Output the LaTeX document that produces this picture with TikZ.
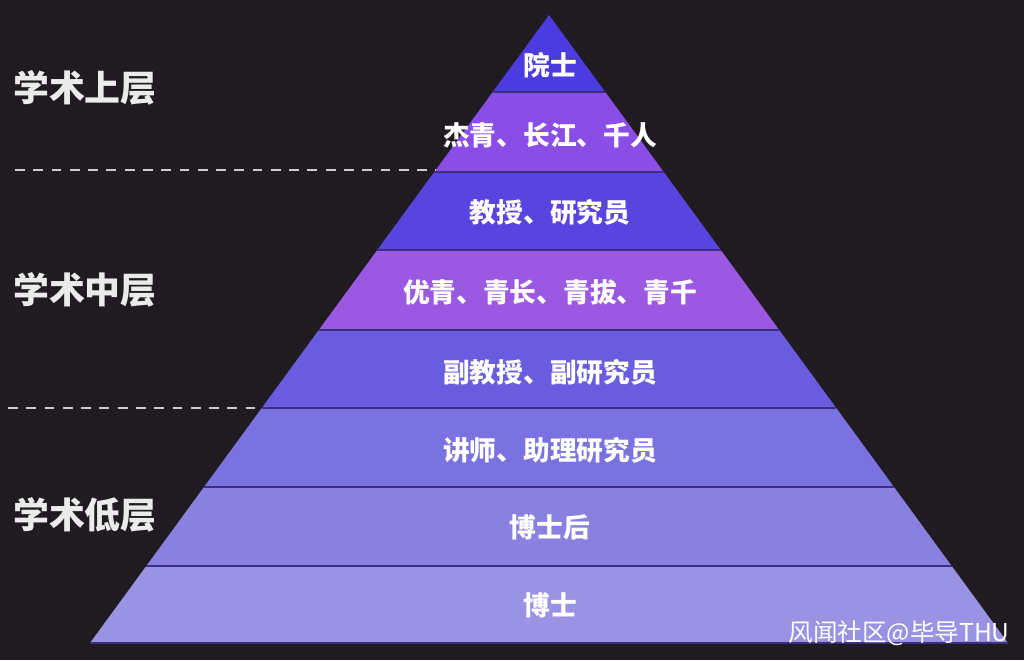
\documentclass[tikz,border=0pt]{standalone}
\usepackage{fontspec}
\newfontfamily\cjk{Noto Sans CJK SC}
\definecolor{bg}{HTML}{1F1B20}
\definecolor{cA}{HTML}{4B3BE0}
\definecolor{cB}{HTML}{8A4DE6}
\definecolor{cC}{HTML}{5A44E0}
\definecolor{cD}{HTML}{9B58E2}
\definecolor{cE}{HTML}{6A5CDF}
\definecolor{cF}{HTML}{7A72E0}
\definecolor{cG}{HTML}{8A80E0}
\definecolor{cH}{HTML}{9A92E2}
\definecolor{sep}{HTML}{3A2F80}
\tikzset{
  sepline/.style={draw=sep, line width=1.6pt},
  layertext/.style={text=white, font=\cjk\bfseries\fontsize{19}{21}\selectfont, inner sep=0pt},
  sidetext/.style={text=white!92!black, font=\cjk\bfseries\fontsize{25.5}{27}\selectfont, anchor=west, inner sep=0pt},
  divider/.style={draw=white!80!black, dashed, dash pattern=on 7pt off 6pt, line width=0.9pt},
  wmtext/.style={text=white, font=\cjk\fontsize{17.5}{19}\selectfont, anchor=east, inner sep=0pt}
}
\begin{document}
\begin{tikzpicture}[x=0.025cm, y=-0.025cm]
\useasboundingbox (0,0) rectangle (1024,660);
\fill[bg] (0,0) rectangle (1024,660);
% left/right edge x at given y: 549 -/+ (y-15)*0.7309
\def\band#1#2#3{%
  \pgfmathsetmacro{\la}{549-(#1-15)*0.7309}%
  \pgfmathsetmacro{\ra}{549+(#1-15)*0.7309}%
  \pgfmathsetmacro{\lb}{549-(#2-15)*0.7309}%
  \pgfmathsetmacro{\rb}{549+(#2-15)*0.7309}%
  \fill[#3] (\la,#1) -- (\ra,#1) -- (\rb,#2) -- (\lb,#2) -- cycle;}
\band{15}{92}{cA}
\band{92}{172}{cB}
\band{172}{250}{cC}
\band{250}{330}{cD}
\band{330}{408}{cE}
\band{408}{487}{cF}
\band{487}{566}{cG}
\band{566}{643}{cH}
% separators
\foreach \yy in {92,172,250,330,408,487,566,643}{
  \pgfmathsetmacro{\la}{549-(\yy-15)*0.7309}
  \pgfmathsetmacro{\ra}{549+(\yy-15)*0.7309}
  \draw[sepline] (\la,\yy) -- (\ra,\yy);
}
% dashed dividers
\coordinate (d1a) at (15,170);
\coordinate (d1b) at (436,170);
\coordinate (d2a) at (8,408);
\coordinate (d2b) at (262,408);
\draw[divider] (d1a) -- (d1b);
\draw[divider] (d2a) -- (d2b);
% layer texts
\node[layertext] (t1) at (550,65) {院士};
\node[layertext] (t2) at (550,135) {杰青、长江、千人};
\node[layertext] (t3) at (550,212) {教授、研究员};
\node[layertext] (t4) at (550,292) {优青、青长、青拔、青千};
\node[layertext] (t5) at (550,372) {副教授、副研究员};
\node[layertext] (t6) at (550,450) {讲师、助理研究员};
\node[layertext] (t7) at (550,527) {博士后};
\node[layertext] (t8) at (550,605) {博士};
% side labels
\node[sidetext] (s1) at (13,88) {学术上层};
\node[sidetext] (s2) at (13,290) {学术中层};
\node[sidetext] (s3) at (13,515) {学术低层};
% watermark
\node[wmtext] (wm) at (1010,633) {风闻社区@毕导THU};
\end{tikzpicture}
\end{document}
